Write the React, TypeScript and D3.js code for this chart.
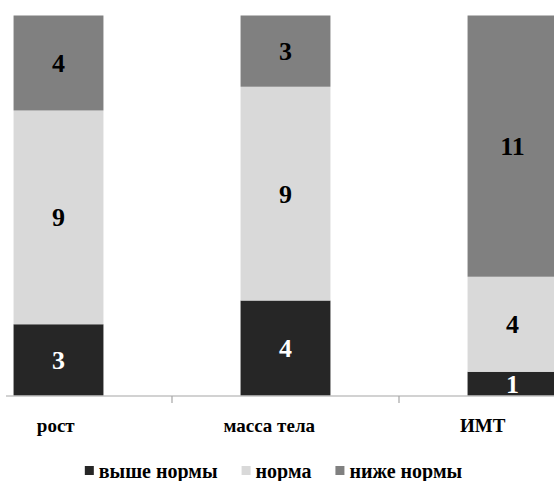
import React, { useEffect, useRef } from "react";
import * as d3 from "d3";

// Categories along the x axis
const categories: string[] = ["рост", "масса тела", "ИМТ"];

// Series names (stack order, bottom to top)
const seriesNames: string[] = ["выше нормы", "норма", "ниже нормы"];

// Counts per category for each series
const aboveNorm: number[] = [3, 4, 1];
const norm: number[] = [9, 9, 4];
const belowNorm: number[] = [4, 3, 11];

const seriesColors: string[] = ["#262626", "#d9d9d9", "#808080"];
const labelColors: string[] = ["#ffffff", "#000000", "#000000"];

const W = 554;
const H = 481;
const FONT = "Liberation Serif, Times New Roman, serif";

export default function App() {
  const ref = useRef<SVGSVGElement | null>(null);

  useEffect(() => {
    const svg = d3.select(ref.current);
    svg.selectAll("*").remove();

    const rows = categories.map((c, i) => ({
      category: c,
      [seriesNames[0]]: aboveNorm[i],
      [seriesNames[1]]: norm[i],
      [seriesNames[2]]: belowNorm[i],
    }));

    const stacked = d3.stack<any>().keys(seriesNames)(rows);

    const step = 227;
    const x0 = -55;
    const x = d3
      .scaleBand<string>()
      .domain(categories)
      .range([x0, x0 + step * categories.length])
      .paddingInner(0.604)
      .paddingOuter(0.302);

    const maxTotal = d3.max(rows, (r: any) => seriesNames.reduce((s, k) => s + r[k], 0)) as number;
    const y = d3.scaleLinear().domain([0, maxTotal]).range([395.5, 15.5]);

    // Bars
    const layers = svg
      .selectAll("g.layer")
      .data(stacked)
      .enter()
      .append("g")
      .attr("class", "layer")
      .attr("fill", (_d, i) => seriesColors[i]);

    layers
      .selectAll("rect")
      .data((d) => d)
      .enter()
      .append("rect")
      .attr("x", (d: any) => x(d.data.category) as number)
      .attr("width", x.bandwidth())
      .attr("y", (d) => y(d[1]))
      .attr("height", (d) => y(d[0]) - y(d[1]));

    // Value labels
    stacked.forEach((layer, li) => {
      svg
        .append("g")
        .selectAll("text")
        .data(layer)
        .enter()
        .append("text")
        .attr("x", (d: any) => (x(d.data.category) as number) + x.bandwidth() / 2)
        .attr("y", (d) => (y(d[0]) + y(d[1])) / 2)
        .attr("dy", "0.35em")
        .attr("text-anchor", "middle")
        .style("font-family", FONT)
        .style("font-weight", "bold")
        .style("font-size", "26px")
        .attr("fill", labelColors[li])
        .text((d) => String(d[1] - d[0]));
    });

    // Category axis
    const axisY = 396;
    svg
      .append("line")
      .attr("x1", 6)
      .attr("x2", W)
      .attr("y1", axisY)
      .attr("y2", axisY)
      .attr("stroke", "#a6a6a6")
      .attr("stroke-width", 1.2);

    const boundaries = categories
      .slice(1)
      .map((c) => (x(c) as number) - (x.step() * x.paddingInner()) / 2);
    svg
      .selectAll("line.tick")
      .data(boundaries)
      .enter()
      .append("line")
      .attr("class", "tick")
      .attr("x1", (d) => d)
      .attr("x2", (d) => d)
      .attr("y1", axisY)
      .attr("y2", axisY + 7)
      .attr("stroke", "#a6a6a6")
      .attr("stroke-width", 1.2);

    const labelX = d3
      .scaleBand<string>()
      .domain(categories)
      .range([-51, -51 + 213.5 * categories.length]);

    svg
      .append("g")
      .selectAll("text")
      .data(categories)
      .enter()
      .append("text")
      .attr("x", (d) => (labelX(d) as number) + labelX.bandwidth() / 2)
      .attr("y", 432)
      .attr("text-anchor", "middle")
      .style("font-family", FONT)
      .style("font-weight", "bold")
      .style("font-size", "19px")
      .attr("fill", "#000")
      .text((d) => d);

    // Legend
    const legend = svg.append("g");
    const sq = 9;
    const sqGap = 5;
    const itemGap = 24;
    let cursor = 0;
    seriesNames.forEach((name, i) => {
      const g = legend.append("g");
      g.append("rect")
        .attr("x", 0)
        .attr("y", -12)
        .attr("width", sq)
        .attr("height", sq)
        .attr("fill", seriesColors[i]);
      const t = g
        .append("text")
        .attr("x", sq + sqGap)
        .attr("y", 0)
        .style("font-family", FONT)
        .style("font-weight", "bold")
        .style("font-size", "20px")
        .attr("fill", "#000")
        .text(name);
      const w = (t.node() as SVGTextElement).getComputedTextLength();
      g.attr("transform", `translate(${cursor},0)`);
      cursor += sq + sqGap + w + itemGap;
    });
    const total = cursor - itemGap;
    legend.attr("transform", `translate(${273.5 - total / 2},478)`);
  }, []);

  return (
    <svg
      ref={ref}
      width={W}
      height={H}
      style={{ position: "absolute", left: 0, top: 0, background: "#fff" }}
    />
  );
}
